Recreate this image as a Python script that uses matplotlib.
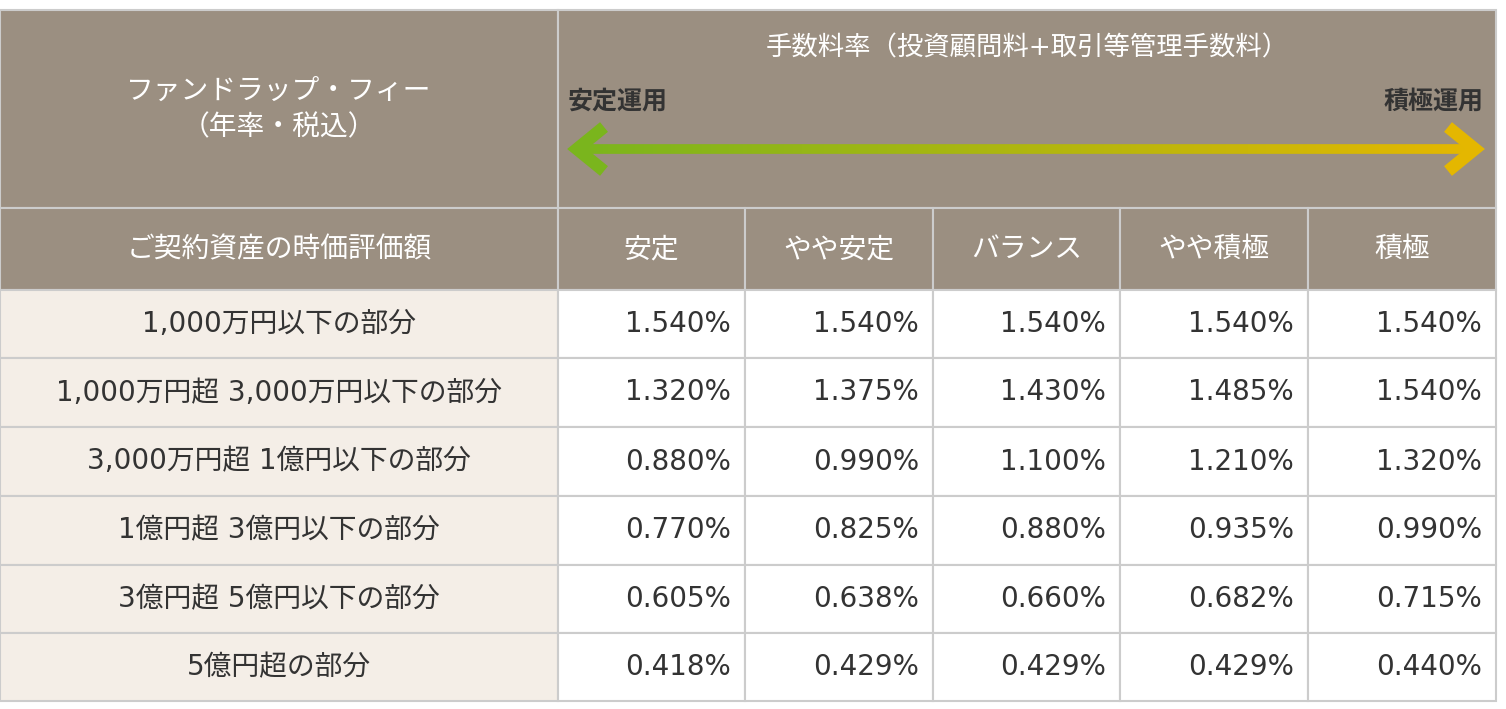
import numpy as np
import matplotlib
matplotlib.use("Agg")
import matplotlib.pyplot as plt
from matplotlib.patches import Rectangle
from matplotlib.collections import LineCollection
from matplotlib.colors import LinearSegmentedColormap

plt.rcParams["font.family"] = ["DejaVu Sans", "Noto Sans CJK JP"]

corner_title = "ファンドラップ・フィー\n（年率・税込）"
rate_title = "手数料率（投資顧問料+取引等管理手数料）"
left_label = "安定運用"
right_label = "積極運用"
row_head = "ご契約資産の時価評価額"
courses = ["安定", "やや安定", "バランス", "やや積極", "積極"]
tiers = ["1,000万円以下の部分", "1,000万円超 3,000万円以下の部分",
         "3,000万円超 1億円以下の部分", "1億円超 3億円以下の部分",
         "3億円超 5億円以下の部分", "5億円超の部分"]
fees = [
    [1.540, 1.540, 1.540, 1.540, 1.540],
    [1.320, 1.375, 1.430, 1.485, 1.540],
    [0.880, 0.990, 1.100, 1.210, 1.320],
    [0.770, 0.825, 0.880, 0.935, 0.990],
    [0.605, 0.638, 0.660, 0.682, 0.715],
    [0.418, 0.429, 0.429, 0.429, 0.440],
]

head_bg = "#9b8f81"
tier_bg = "#f4eee7"
line_c = "#cccccc"
text_c = "#333333"
fs = 20

col_x = [0, 558, 745, 933, 1120, 1308, 1496]
row_y = [10, 208, 290, 358, 427, 496, 565, 633, 701]

fig = plt.figure(figsize=(15.06, 7.09), dpi=100)
ax = fig.add_axes([0, 0, 1, 1])
ax.set_xlim(0, 1506)
ax.set_ylim(709, 0)
ax.axis("off")

def cell(x0, x1, y0, y1, fc):
    ax.add_patch(Rectangle((x0, y0), x1 - x0, y1 - y0, facecolor=fc,
                           edgecolor=line_c, linewidth=1.5))

# header rows
cell(col_x[0], col_x[1], row_y[0], row_y[1], head_bg)
cell(col_x[1], col_x[-1], row_y[0], row_y[1], head_bg)
cell(col_x[0], col_x[1], row_y[1], row_y[2], head_bg)
for i, c in enumerate(courses):
    cell(col_x[i + 1], col_x[i + 2], row_y[1], row_y[2], head_bg)
    ax.text((col_x[i + 1] + col_x[i + 2]) / 2, (row_y[1] + row_y[2]) / 2, c,
            color="white", fontsize=fs, ha="center", va="center")

ax.text(col_x[1] / 2, (row_y[0] + row_y[1]) / 2, corner_title, color="white",
        fontsize=fs, ha="center", va="center", linespacing=1.4)
ax.text(col_x[1] / 2, (row_y[1] + row_y[2]) / 2, row_head, color="white",
        fontsize=fs, ha="center", va="center")
ax.text((col_x[1] + col_x[-1]) / 2, 48, rate_title, color="white",
        fontsize=19, ha="center", va="center")
ax.text(568, 102, left_label, color=text_c, fontsize=18, fontweight="bold",
        ha="left", va="center")
ax.text(1484, 102, right_label, color=text_c, fontsize=18, fontweight="bold",
        ha="right", va="center")

# gradient double arrow
cmap = LinearSegmentedColormap.from_list("g", ["#7ab51d", "#e4b700"])
xs = np.linspace(576, 1474, 200)
segs = [[(xs[k], 149), (xs[k + 1], 149)] for k in range(len(xs) - 1)]
lc = LineCollection(segs, colors=cmap(np.linspace(0, 1, len(segs))),
                    linewidths=7, capstyle="butt")
ax.add_collection(lc)
ax.plot([604, 577, 604], [127, 149, 171], color=cmap(0.0), lw=9,
        solid_joinstyle="miter", solid_capstyle="butt")
ax.plot([1448, 1475, 1448], [127, 149, 171], color=cmap(1.0), lw=9,
        solid_joinstyle="miter", solid_capstyle="butt")

# data rows
for r, name in enumerate(tiers):
    y0, y1 = row_y[r + 2], row_y[r + 3]
    cell(col_x[0], col_x[1], y0, y1, tier_bg)
    ax.text(col_x[1] / 2, (y0 + y1) / 2, name, color=text_c, fontsize=fs,
            ha="center", va="center")
    for i, v in enumerate(fees[r]):
        cell(col_x[i + 1], col_x[i + 2], y0, y1, "white")
        ax.text(col_x[i + 2] - 14, (y0 + y1) / 2, f"{v:.3f}%", color=text_c,
                fontsize=fs, ha="right", va="center")

fig.savefig("out.png", dpi=100, facecolor="white")
